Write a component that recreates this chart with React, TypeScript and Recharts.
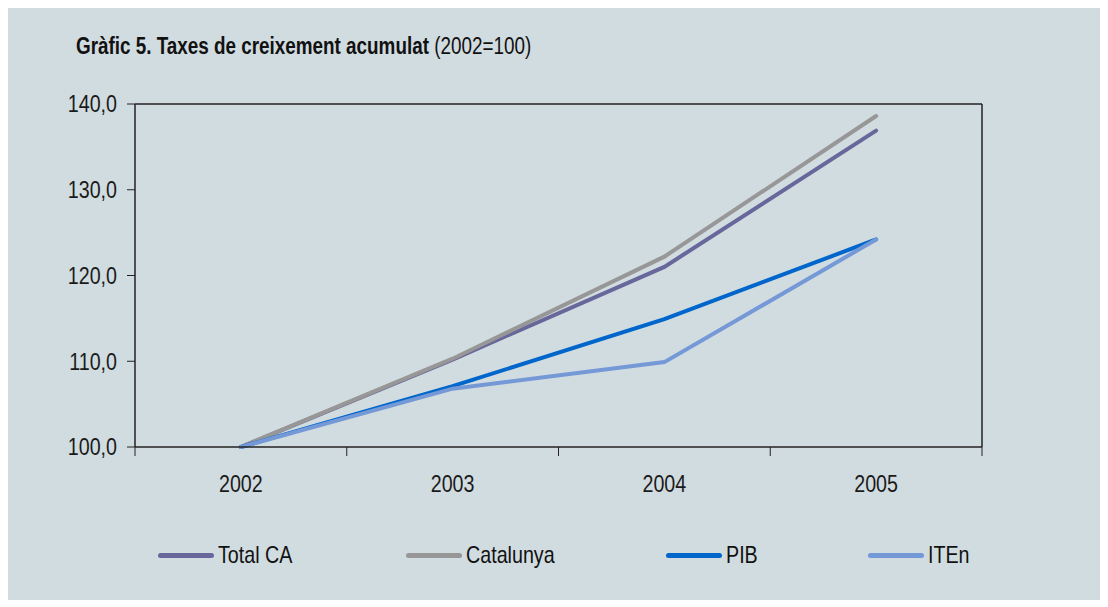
import React from "react";
import { LineChart, Line, XAxis, YAxis, Legend, ReferenceLine } from "recharts";

const years = ["2002", "2003", "2004", "2005"];
const totalCA = [100, 110.2, 121.0, 136.9];
const catalunya = [100, 110.3, 122.2, 138.6];
const pib = [100, 107.1, 114.9, 124.2];
const iten = [100, 106.8, 109.9, 124.2];
const yTicks = [100, 110, 120, 130, 140];

const series = [
  { key: "totalCA", name: "Total CA", color: "#67679b" },
  { key: "catalunya", name: "Catalunya", color: "#979797" },
  { key: "pib", name: "PIB", color: "#0066cc" },
  { key: "iten", name: "ITEn", color: "#7598d6" },
];

// no narrow font installed: squeeze Liberation Sans to look like Arial Narrow
const FONT = "'Liberation Sans', Arial, sans-serif";
const SQUEEZE = 0.82;
const legendWidths = [248, 260, 202, 120];

// categories sit in the middle of each band, ticks on the band edges
const data = years.map((year, i) => ({
  pos: i + 0.5,
  year,
  totalCA: totalCA[i],
  catalunya: catalunya[i],
  pib: pib[i],
  iten: iten[i],
}));
const xTicks = [0, 0.5, 1, 1.5, 2, 2.5, 3, 3.5, 4];

function XTick(props: any) {
  const { x, y, payload } = props;
  const v = payload.value as number;
  if (Number.isInteger(v)) {
    return <line x1={x} x2={x} y1={y - 8} y2={y + 1} stroke="#222" strokeWidth={1} />;
  }
  return (
    <text transform={`translate(${x},${y + 37}) scale(${SQUEEZE},1)`} textAnchor="middle" fill="#1a1a1a" fontSize={24} fontFamily={FONT}>
      {years[Math.floor(v)]}
    </text>
  );
}

function YTick(props: any) {
  const { x, y, payload } = props;
  const label = (payload.value as number).toFixed(1).replace(".", ",");
  return (
    <text transform={`translate(${x},${y}) scale(${SQUEEZE},1)`} textAnchor="end" dy="0.35em" fill="#1a1a1a" fontSize={24} fontFamily={FONT}>
      {label}
    </text>
  );
}

function LegendContent() {
  return (
    <div style={{ display: "flex", paddingLeft: 150, height: 30, alignItems: "center", fontFamily: FONT, fontSize: 24, color: "#111" }}>
      {series.map((s, i) => (
        <div key={s.key} style={{ display: "flex", alignItems: "center", width: legendWidths[i], flex: "none" }}>
          <span style={{ display: "inline-block", width: 56, height: 5, borderRadius: 2.5, background: s.color, marginRight: 4 }} />
          <span style={{ display: "inline-block", transform: `scaleX(${SQUEEZE})`, transformOrigin: "left center", whiteSpace: "nowrap" }}>{s.name}</span>
        </div>
      ))}
    </div>
  );
}

export default function App() {
  return (
    <div style={{ position: "relative", width: 1093, height: 592, background: "#d1dce0" }}>
      <div style={{ position: "absolute", left: 68, top: 25, fontFamily: FONT, fontSize: 23, color: "#111", whiteSpace: "nowrap", transform: `scaleX(${SQUEEZE})`, transformOrigin: "left top" }}>
        <b>Gràfic 5. Taxes de creixement acumulat</b> (2002=100)
      </div>
      <LineChart width={1093} height={592} data={data} margin={{ top: 96, right: 119, bottom: 83, left: 47 }}>
        <XAxis
          dataKey="pos"
          type="number"
          domain={[0, 4]}
          ticks={xTicks}
          interval={0}
          tick={<XTick />}
          tickLine={false}
          axisLine={{ stroke: "#222", strokeWidth: 1.5 }}
          height={40}
        />
        <YAxis
          domain={[100, 140]}
          ticks={yTicks}
          tick={<YTick />}
          tickLine={{ stroke: "#222" }}
          tickSize={8}
          tickMargin={10}
          axisLine={{ stroke: "#222", strokeWidth: 1.5 }}
          width={80}
        />
        <ReferenceLine y={140} stroke="#222" strokeWidth={1.5} />
        <ReferenceLine x={4} stroke="#222" strokeWidth={1.5} />
        {series.map((s) => (
          <Line
            key={s.key}
            type="linear"
            dataKey={s.key}
            name={s.name}
            stroke={s.color}
            strokeWidth={4}
            strokeLinecap="round"
            dot={false}
            isAnimationActive={false}
          />
        ))}
        <Legend verticalAlign="bottom" content={<LegendContent />} wrapperStyle={{ top: 532, left: 0, width: 1093, height: 30 }} />
      </LineChart>
    </div>
  );
}
